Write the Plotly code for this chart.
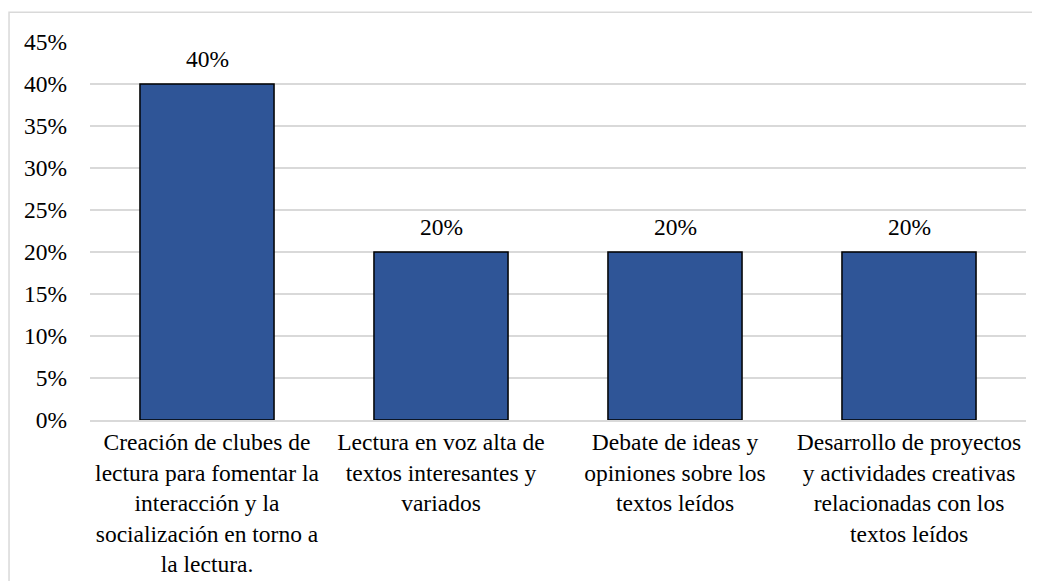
import plotly.graph_objects as go

# categorías (eje x) y porcentajes de cada estrategia
categorias = [
    "Creación de clubes de<br>lectura para fomentar la<br>interacción y la<br>socialización en torno a<br>la lectura.",
    "Lectura en voz alta de<br>textos interesantes y<br>variados",
    "Debate de ideas y<br>opiniones sobre los<br>textos leídos",
    "Desarrollo de proyectos<br>y actividades creativas<br>relacionadas con los<br>textos leídos",
]
porcentajes = [0.40, 0.20, 0.20, 0.20]
etiquetas = ["40%", "20%", "20%", "20%"]

fuente = "Liberation Serif, Times New Roman, serif"
tam = 23.5

fig = go.Figure(
    go.Bar(
        x=categorias,
        y=porcentajes,
        marker=dict(color="#2F5597", line=dict(color="#000000", width=1.5)),
        hoverinfo="x+y",
    )
)

# etiquetas de datos encima de cada barra
for cat, val, txt in zip(categorias, porcentajes, etiquetas):
    fig.add_annotation(
        x=cat,
        y=val,
        text=txt,
        showarrow=False,
        yanchor="bottom",
        yshift=10,
        font=dict(family=fuente, size=tam, color="#000000"),
    )

# la página html deja 8px de margen, por eso el tamaño es algo menor
fig.update_layout(
    width=1032,
    height=573,
    margin=dict(l=82, r=14, t=34, b=161),
    paper_bgcolor="white",
    plot_bgcolor="white",
    bargap=0.427,
    showlegend=False,
    font=dict(family=fuente, size=tam, color="#000000"),
)

fig.update_yaxes(
    range=[0, 0.45],
    dtick=0.05,
    tickformat=".0%",
    showgrid=True,
    gridcolor="#D9D9D9",
    gridwidth=1.5,
    zeroline=False,
    ticklabelstandoff=22,
    tickfont=dict(family=fuente, size=tam),
    automargin=False,
)
fig.update_xaxes(
    showline=True,
    linecolor="#D9D9D9",
    linewidth=1.5,
    tickfont=dict(family=fuente, size=tam),
    ticklabelstandoff=0,
    automargin=False,
)

# marco exterior gris claro del gráfico
fig.add_shape(
    type="rect",
    xref="paper",
    yref="paper",
    x0=-0.0865,
    x1=1.1,
    y0=-0.6,
    y1=1.079,
    line=dict(color="#D9D9D9", width=1.5),
    layer="below",
)

fig.write_html("out.html")
